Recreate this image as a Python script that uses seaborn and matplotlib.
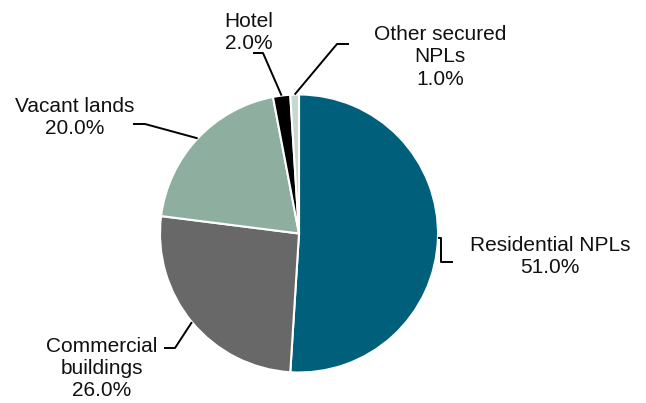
import numpy as np
import matplotlib
matplotlib.use("Agg")
import matplotlib.pyplot as plt
import seaborn as sns

# Portfolio composition by collateral type
categories = ["Residential NPLs", "Commercial\nbuildings", "Vacant lands", "Hotel", "Other secured\nNPLs"]
shares = [51.0, 26.0, 20.0, 2.0, 1.0]
colors = ["#005F7B", "#686868", "#8EAF9F", "#000000", "#C9D7D3"]

sns.set_theme(style="white")
plt.rcParams["font.family"] = ["Liberation Sans", "DejaVu Sans"]

W, H = 646, 403
fig = plt.figure(figsize=(W / 100, H / 100), dpi=100)
ax = fig.add_axes([0, 0, 1, 1])

cx, cy, r = 299, H - 233.5, 139
wedges, _ = ax.pie(shares, colors=colors, startangle=90, counterclock=False,
                   center=(cx, cy), radius=r, frame=True,
                   wedgeprops=dict(edgecolor="white", linewidth=1.5))
ax.set_xlim(0, W)
ax.set_ylim(0, H)
ax.axis("off")

# label block centre (pixels from top-left) and leader elbow points
layout = [
    dict(text=(550, 256.5), elbow=[(441, 238), (441, 262), (453, 262)]),
    dict(text=(102, 368.5), elbow=[(175, 348), (164, 348)]),
    dict(text=(75, 117.5), elbow=[(145, 124), (133, 124)]),
    dict(text=(249, 32.5), elbow=[(263, 53), (253, 53)]),
    dict(text=(440, 57), elbow=[(337, 44), (349, 44)]),
]

for w, cat, val, lay in zip(wedges, categories, shares, layout):
    mid = np.deg2rad((w.theta1 + w.theta2) / 2)
    ax_pt = (cx + r * np.cos(mid), cy + r * np.sin(mid))
    pts = [ax_pt] + [(x, H - y) for x, y in lay["elbow"]]
    xs, ys = zip(*pts)
    ax.plot(xs, ys, color="black", lw=1.4, solid_capstyle="butt", zorder=3)
    tx, ty = lay["text"]
    ax.text(tx, H - ty, f"{cat}\n{val:.1f}%", ha="center", va="center",
            fontsize=15, color="#111111", linespacing=1.22)

fig.savefig("out.png", dpi=100, facecolor="white")
